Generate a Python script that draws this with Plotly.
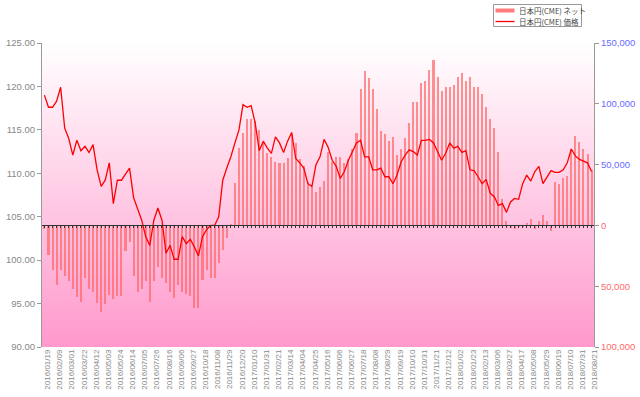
import base64
import plotly.graph_objects as go

# ---- data (weekly, 2016/01/19 .. 2018/08/21) ----
price = [
    119.0, 117.6, 117.6, 118.3, 119.9, 115.2, 114.0, 112.1, 113.8, 112.6,
    113.1, 112.4, 113.3, 110.4, 108.5, 109.2, 111.2, 106.5, 109.2, 109.2,
    109.9, 110.6, 107.2, 106.0, 104.6, 102.7, 101.7, 104.6, 106.0, 104.6,
    100.8, 101.7, 100.1, 100.1, 102.7, 101.9, 102.4, 101.5, 100.5, 102.7,
    103.5, 104.0, 104.0, 105.0, 109.2, 110.6, 111.9, 113.5, 115.0, 117.9,
    117.6, 117.8, 115.8, 112.6, 113.7, 112.9, 112.3, 114.2, 113.5, 112.4,
    113.7, 114.7, 111.7, 111.2, 110.6, 108.8, 108.5, 111.0, 111.9, 113.9,
    113.0, 111.5, 110.8, 109.4, 110.2, 111.5, 112.6, 113.5, 113.8, 111.9,
    111.9, 110.4, 110.4, 110.6, 109.6, 109.6, 108.8, 109.8, 111.3, 112.1,
    112.7, 112.5, 112.1, 113.8, 113.8, 113.9, 113.5, 112.5, 111.5, 112.3,
    113.5, 112.9, 113.1, 112.4, 112.6, 110.4, 110.3, 109.6, 108.8, 109.3,
    107.7, 107.3, 106.3, 106.5, 105.5, 106.7, 107.1, 107.0, 108.8, 109.8,
    109.1, 110.2, 110.8, 108.8, 109.6, 110.3, 110.1, 110.1, 110.4, 111.2,
    112.8, 112.0, 111.6, 111.4, 111.2, 110.2,
]

net = [
    -3300, -24500, -36800, -49000, -36800, -42000, -46000, -52000, -58600, -63000,
    -43600, -52000, -54500, -64000, -71000, -65000, -57000, -60500, -58000, -58000,
    -21000, -13600, -42000, -54500, -52000, -46000, -63000, -46000, -34000, -43600,
    -47000, -54500, -60000, -49000, -54500, -56000, -58000, -68000, -68000, -45000,
    -36800, -43600, -43000, -31000, -20500, -10400, 1000, 34900, 64000, 76400,
    87800, 87300, 86000, 78500, 68700, 59400, 55900, 52400, 51000, 51000,
    55400, 75000, 67600, 54500, 48500, 36000, 31400, 27800, 31900, 36800,
    60500, 52400, 55900, 55900, 51300, 55000, 62700, 75800, 112000, 126800,
    121400, 112000, 96000, 77700, 75000, 69500, 73000, 57800, 62700, 72000,
    84000, 101700, 101700, 117000, 119000, 128000, 136000, 122000, 110500, 114000,
    114000, 115400, 122000, 125700, 119000, 122000, 114000, 114000, 108000, 97000,
    87800, 80000, 60000, 21800, 4000, -2200, -3000, -1000, -1500, 1600,
    5500, -3300, 3500, 8200, 3500, -4900, 35700, 34400, 39000, 40400,
    62700, 73600, 68400, 62700, 58600, 45300,
]

tick_labels = [
    "2016/01/19", "2016/02/09", "2016/03/01", "2016/03/22", "2016/04/12", "2016/05/03",
    "2016/05/24", "2016/06/14", "2016/07/05", "2016/07/26", "2016/08/16", "2016/09/06",
    "2016/09/27", "2016/10/18", "2016/11/08", "2016/11/29", "2016/12/20", "2017/01/10",
    "2017/01/31", "2017/02/21", "2017/03/14", "2017/04/04", "2017/04/25", "2017/05/16",
    "2017/06/06", "2017/06/27", "2017/07/18", "2017/08/08", "2017/08/29", "2017/09/19",
    "2017/10/10", "2017/10/31", "2017/11/21", "2017/12/12", "2018/01/02", "2018/01/23",
    "2018/02/13", "2018/03/06", "2018/03/27", "2018/04/17", "2018/05/08", "2018/05/29",
    "2018/06/19", "2018/07/10", "2018/07/31", "2018/08/21",
]
tick_step = 3

net_ticks = [-100000, -50000, 0, 50000, 100000, 150000]
net_tick_text = ["100,000", "50,000", "0", "50,000", "100,000", "150,000"]

series_names = ["日本円(CME) ネット", "日本円(CME) 価格"]

# ---- figure ----
x = list(range(len(price)))
tick_pos = x[::tick_step]

BAR_COLOR = "rgba(255,100,100,0.7)"
LINE_COLOR = "#ff0000"
RED_T = "#ff6a6a"
BLUE_T = "#6a6aff"
colored_text = [
    f'<span style="color:{RED_T if v <= 0 else BLUE_T}">{t}</span>'
    for v, t in zip(net_ticks, net_tick_text)
]

fig = go.Figure()
fig.add_trace(go.Bar(
    x=x, y=net, name=series_names[0], xaxis="x", yaxis="y",
    width=0.5, showlegend=False,
    marker=dict(color=BAR_COLOR, line=dict(width=0)),
))
fig.add_trace(go.Scatter(
    x=x, y=price, name=series_names[1], xaxis="x2", yaxis="y2",
    mode="lines", line=dict(color=LINE_COLOR, width=1.3), showlegend=False,
))

svg = ('<svg xmlns="http://www.w3.org/2000/svg" width="10" height="100" '
       'preserveAspectRatio="none"><defs><linearGradient id="g" x1="0" y1="0" x2="0" y2="1">'
       '<stop offset="0" stop-color="#ffffff"/><stop offset="1" stop-color="#ff99cc"/>'
       '</linearGradient></defs><rect width="10" height="100" fill="url(#g)"/></svg>')
bg_src = "data:image/svg+xml;base64," + base64.b64encode(svg.encode()).decode()

# ---- compact legend box (pixel layout converted to paper coords) ----
L, T, PW, PH = 42, 43, 552, 304
def px(v):
    return (v - L) / PW
def py(v):
    return (T + PH - v) / PH

leg_font = dict(size=7.5, color="#444444", family="Noto Sans CJK JP, sans-serif")
shapes = [
    dict(type="rect", xref="paper", yref="paper", x0=px(493.5), x1=px(581.5),
         y0=py(26.5), y1=py(4.5), line=dict(color="#999999", width=1),
         fillcolor="white", layer="above"),
    dict(type="rect", xref="paper", yref="paper", x0=px(495.5), x1=px(514.5),
         y0=py(12.5), y1=py(8.5), line=dict(width=0), fillcolor="#ff7a7a", layer="above"),
    dict(type="line", xref="paper", yref="paper", x0=px(495.5), x1=px(514.5),
         y0=py(21.5), y1=py(21.5), line=dict(color=LINE_COLOR, width=1.3), layer="above"),
]
annotations = [
    dict(text=series_names[0], xref="paper", yref="paper", x=px(516.5), y=py(10.5),
         xanchor="left", yanchor="middle", showarrow=False, font=leg_font),
    dict(text=series_names[1], xref="paper", yref="paper", x=px(516.5), y=py(21.5),
         xanchor="left", yanchor="middle", showarrow=False, font=leg_font),
]

xr = [-0.6, 135.6]
axis_grey = "#999999"
font_fam = "Liberation Sans, Arial, sans-serif"

fig.update_layout(
    width=640, height=397,
    margin=dict(l=L, r=640 - L - PW, t=T, b=397 - T - PH, autoexpand=False),
    paper_bgcolor="white", plot_bgcolor="rgba(0,0,0,0)",
    bargap=0, showlegend=False,
    images=[dict(source=bg_src, xref="paper", yref="paper", x=0, y=1,
                 sizex=1, sizey=1, sizing="stretch", layer="below")],
    shapes=shapes, annotations=annotations,
    xaxis=dict(
        range=xr, tickmode="array", tickvals=tick_pos, ticktext=tick_labels,
        tickangle=-90, tickfont=dict(size=8, color="#888888", family=font_fam),
        ticklabelshift=3,
        showgrid=False, zeroline=False, showline=False, ticks="",
        anchor="y",
    ),
    xaxis2=dict(
        range=xr, overlaying="x", anchor="free", position=0.4, side="bottom",
        tickmode="array", tickvals=x, showticklabels=False,
        ticks="outside", ticklen=2, tickcolor="#333333", tickwidth=1,
        showline=True, linecolor="#333333", linewidth=1,
        showgrid=False, zeroline=False,
    ),
    yaxis=dict(
        range=[-100000, 150000], side="right",
        tickmode="array", tickvals=net_ticks, ticktext=colored_text,
        tickfont=dict(size=9.5, family=font_fam),
        showgrid=False, zeroline=False,
        showline=True, linecolor=axis_grey, linewidth=1,
        ticks="outside", ticklen=4, tickcolor=axis_grey,
    ),
    yaxis2=dict(
        range=[90, 125], side="left", overlaying="y", anchor="x",
        dtick=5, tick0=90, tickformat=".2f",
        tickfont=dict(size=9.5, color="#888888", family=font_fam),
        showgrid=False, zeroline=False,
        showline=True, linecolor=axis_grey, linewidth=1,
        ticks="outside", ticklen=4, tickcolor=axis_grey,
    ),
)

fig.write_html(
    "out.html",
    config={"displayModeBar": False},
    post_script="document.body.style.margin='0';document.body.style.overflow='hidden';",
)
